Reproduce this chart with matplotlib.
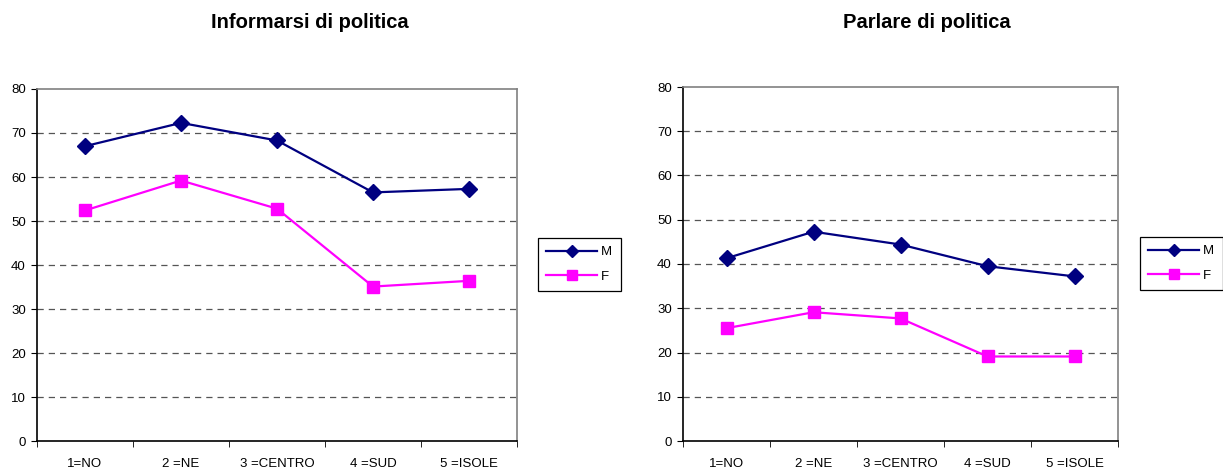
import matplotlib
matplotlib.use("Agg")
import matplotlib.pyplot as plt
from matplotlib.ticker import FixedLocator

plt.rcParams['font.family'] = ['Liberation Sans', 'DejaVu Sans']

categories = ["1=NO", "2 =NE", "3 =CENTRO", "4 =SUD", "5 =ISOLE"]
info_M = [67.0, 72.3, 68.3, 56.5, 57.3]
info_F = [52.4, 59.2, 52.8, 35.1, 36.4]
parl_M = [41.3, 47.3, 44.4, 39.5, 37.2]
parl_F = [25.5, 29.1, 27.7, 19.1, 19.1]
titles = ["Informarsi di politica", "Parlare di politica"]

fig = plt.figure(figsize=(12.23, 4.73), dpi=100)
W, H = 1223, 473

def make_ax(x0, x1, ytop, ybot):
    return fig.add_axes([x0 / W, 1 - ybot / H, (x1 - x0) / W, (ybot - ytop) / H])

axes = [make_ax(37, 517, 89, 441), make_ax(683, 1118, 87, 441)]
data = [(info_M, info_F), (parl_M, parl_F)]
legend_pos = [(538, 238, 621, 293), (1140, 237, 1223, 291)]
title_x = [310, 927]

for ax, (m, f), lp, tx, title in zip(axes, data, legend_pos, title_x, titles):
    x = list(range(1, len(categories) + 1))
    ax.plot(x, m, color='#000080', marker='D', markersize=8, linewidth=1.6,
            label='M', zorder=3)
    ax.plot(x, f, color='#FF00FF', marker='s', markersize=9, linewidth=1.6,
            label='F', zorder=3)
    ax.set_xlim(0.5, len(categories) + 0.5)
    ax.set_ylim(0, 80)
    ax.set_yticks(range(0, 81, 10))
    ax.set_xticks(x)
    ax.set_xticklabels(categories)
    ax.xaxis.set_minor_locator(FixedLocator([i + 0.5 for i in range(0, len(categories) + 1)]))
    ax.tick_params(axis='x', which='major', length=0, labelsize=9.5, pad=12)
    ax.tick_params(axis='x', which='minor', length=4, direction='out', color='black')
    ax.tick_params(axis='y', length=4, direction='out', labelsize=9.5, pad=4)
    for yv in range(10, 80, 10):
        ax.axhline(yv, color='#555555', linewidth=0.9, dashes=(5, 4), zorder=1)
    ax.spines['left'].set_color('black')
    ax.spines['bottom'].set_color('black')
    ax.spines['top'].set_color('#808080')
    ax.spines['right'].set_color('#808080')
    for s in ax.spines.values():
        s.set_linewidth(1.2)
    lx0, ly0, lx1, ly1 = lp
    leg = ax.legend(loc='upper left',
                    bbox_to_anchor=(lx0 / W, 1 - ly1 / H, (lx1 - lx0) / W, (ly1 - ly0) / H),
                    bbox_transform=fig.transFigure, mode='expand',
                    fancybox=False, edgecolor='black', framealpha=1,
                    fontsize=9.5, handlelength=3.9, borderpad=0.6,
                    labelspacing=0.95, handletextpad=0.25, borderaxespad=0)
    leg.get_frame().set_linewidth(0.9)
    for h in leg.legend_handles:
        h.set_markersize(h.get_markersize() * 0.8)
    fig.text(tx / W, 1 - 22.5 / H, title, ha='center', va='center',
             fontsize=14.5, fontweight='bold')

fig.savefig("out.png", dpi=100)
